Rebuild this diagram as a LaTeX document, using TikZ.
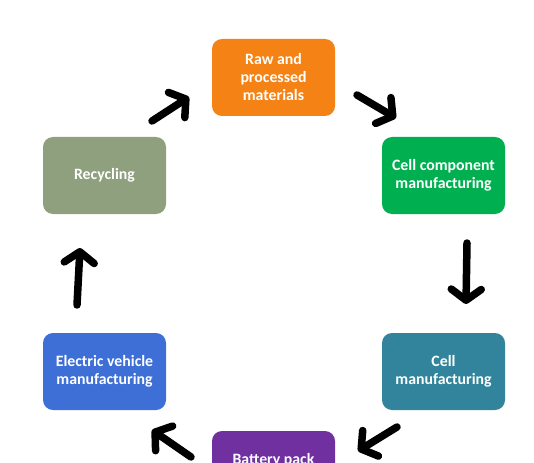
\documentclass[tikz,border=0pt]{standalone}
\usepackage{fontspec}
\setmainfont{Carlito}
\usetikzlibrary{arrows.meta,positioning}
\definecolor{rawc}{RGB}{245,130,20}
\definecolor{cellcompc}{RGB}{0,176,80}
\definecolor{cellc}{RGB}{49,132,155}
\definecolor{packc}{RGB}{112,48,160}
\definecolor{evc}{RGB}{61,111,214}
\definecolor{recyc}{RGB}{142,160,125}
\tikzset{
  stage/.style={rectangle,rounded corners=10pt,minimum width=123pt,minimum height=77pt,
    inner sep=2pt,align=center,text=white,font=\fontsize{15.8}{18}\selectfont\bfseries},
  flow/.style={line width=7.5pt,line cap=round,-{Straight Barb[length=11pt,width=30pt,round]}}
}
\begin{document}
\begin{tikzpicture}[x=1pt,y=-1pt]
\useasboundingbox (0,0) rectangle (534,462);
\clip (0,0) rectangle (534,462);
% stages of the cycle
\node[stage,fill=rawc](q_raw) at (273.5,77.5) {Raw and\\processed\\materials};
\node[stage,fill=cellcompc](q_comp) at (443.5,175.5) {Cell component\\manufacturing};
\node[stage,fill=cellc](q_cell) at (443.5,371.5) {Cell\\manufacturing};
\node[stage,fill=packc](q_pack) at (273.5,469.5) {Battery pack\\manufacturing};
\node[stage,fill=evc](q_ev) at (104.5,371.5) {Electric vehicle\\manufacturing};
\node[stage,fill=recyc](q_rec) at (104.5,175.5) {Recycling};
% arrow ends
\coordinate (a_0) at (152,121);
\coordinate (a_1) at (189,97);
\coordinate (b_0) at (357,95);
\coordinate (b_1) at (396,118);
\coordinate (c_0) at (467,243);
\coordinate (c_1) at (466,304);
\coordinate (d_0) at (397,427);
\coordinate (d_1) at (358,451);
\coordinate (e_0) at (191,457);
\coordinate (e_1) at (152,430);
\coordinate (f_0) at (77,305);
\coordinate (f_1) at (80,248);
\draw[flow] (a_0) -- (a_1);
\draw[flow] (b_0) -- (b_1);
\draw[flow] (c_0) -- (c_1);
\draw[flow] (d_0) -- (d_1);
\draw[flow] (e_0) -- (e_1);
\draw[flow] (f_0) -- (f_1);
\end{tikzpicture}
\end{document}
